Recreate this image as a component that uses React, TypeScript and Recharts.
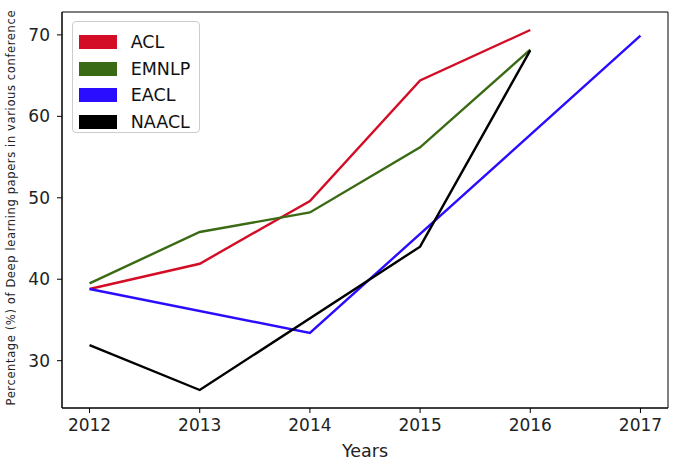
import { LineChart, Line, XAxis, YAxis, Legend, ReferenceArea } from 'recharts'

const years = [2012, 2013, 2014, 2015, 2016, 2017]
const acl = [38.8, 41.9, 49.6, 64.4, 70.6, null]
const emnlp = [39.5, 45.8, 48.2, 56.2, 68.2, null]
const eacl = [38.8, null, 33.4, null, null, 69.9]
const naacl = [31.9, 26.4, null, 44.0, 68.1, null]
const yTicks = [30, 40, 50, 60, 70]

const series = [
  { name: 'ACL', values: acl, color: '#d40d26' },
  { name: 'EMNLP', values: emnlp, color: '#3a6b14' },
  { name: 'EACL', values: eacl, color: '#2a0cff' },
  { name: 'NAACL', values: naacl, color: '#000000' },
]

const chartData = years.map((year, i) => {
  const row: Record<string, number | null> = { year }
  series.forEach((s) => {
    row[s.name] = s.values[i]
  })
  return row
})

const font = "'DejaVu Sans', sans-serif"
const X_DOMAIN: [number, number] = [2011.75, 2017.25]
const Y_DOMAIN: [number, number] = [24.19, 72.81]

function LegendBox() {
  return (
    <div
      style={{
        width: 128,
        height: 112,
        border: '1px solid #cccccc',
        borderRadius: 4,
        background: 'rgba(255,255,255,0.85)',
        fontFamily: font,
        fontSize: 17.5,
        color: '#111',
        paddingTop: 7,
        boxSizing: 'border-box',
      }}
    >
      {series.map((s) => (
        <div key={s.name} style={{ display: 'flex', alignItems: 'center', height: 26.6 }}>
          <div style={{ width: 38, height: 14, marginLeft: 6, background: s.color }} />
          <span style={{ marginLeft: 14, lineHeight: '14px' }}>{s.name}</span>
        </div>
      ))}
    </div>
  )
}

export default function App() {
  const tick = { fill: '#222', fontSize: 17, fontFamily: font }
  return (
    <div style={{ position: 'absolute', left: 0, top: 0 }}>
      <LineChart width={684} height={460} data={chartData} margin={{ top: 12, right: 16, left: 0, bottom: 0 }}>
        <XAxis
          dataKey="year"
          type="number"
          domain={X_DOMAIN}
          ticks={years}
          allowDataOverflow
          height={52}
          tick={tick}
          tickSize={5}
          tickMargin={6}
          stroke="#000"
          label={() => (
            <text x={365} y={457} textAnchor="middle" fontFamily={font} fontSize={17.5} fill="#222">
              Years
            </text>
          )}
        />
        <YAxis
          type="number"
          domain={Y_DOMAIN}
          ticks={yTicks}
          allowDataOverflow
          width={62}
          tick={tick}
          tickSize={5}
          tickMargin={7}
          stroke="#000"
          label={() => (
            <text
              x={15}
              y={208}
              transform="rotate(-90 15 208)"
              textAnchor="middle"
              fontFamily={font}
              fontSize={11.5}
              textLength={395}
              lengthAdjust="spacing"
              fill="#222"
            >
              Percentage (%) of Deep learning papers in various conference
            </text>
          )}
        />
        <ReferenceArea
          x1={X_DOMAIN[0]}
          x2={X_DOMAIN[1]}
          y1={Y_DOMAIN[0]}
          y2={Y_DOMAIN[1]}
          fill="none"
          stroke="#000"
          strokeWidth={1}
          ifOverflow="visible"
        />
        {series.map((s) => (
          <Line
            key={s.name}
            dataKey={s.name}
            stroke={s.color}
            strokeWidth={2.4}
            dot={false}
            activeDot={false}
            connectNulls
            isAnimationActive={false}
          />
        ))}
        <Legend
          layout="vertical"
          align="center"
          verticalAlign="middle"
          content={() => <LegendBox />}
          wrapperStyle={{ left: 71.7, top: 20.7, width: 'auto', height: 'auto' }}
        />
      </LineChart>
    </div>
  )
}
